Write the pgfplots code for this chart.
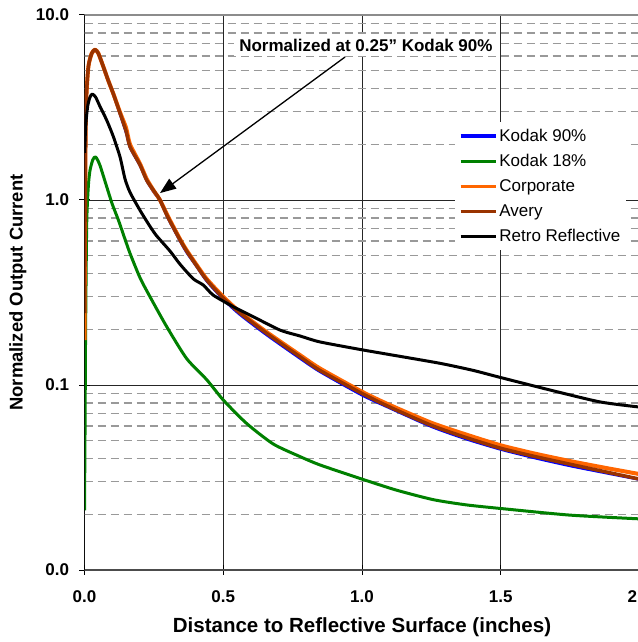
\documentclass[border=0pt]{standalone}
\usepackage{fontspec}
\setmainfont{Liberation Sans}
\usepackage{pgfplots}
\pgfplotsset{compat=1.18}
\usetikzlibrary{arrows.meta}

\definecolor{kblue}{RGB}{0,0,255}
\definecolor{kgreen}{RGB}{0,128,0}
\definecolor{corp}{RGB}{255,102,0}
\definecolor{avery}{RGB}{153,51,0}

\begin{document}
\begin{tikzpicture}
\begin{axis}[
    at={(0,0)}, anchor=south west,
    width=555pt, height=555pt, scale only axis,
    xmin=0, xmax=2,
    ymode=log, ymin=0.01, ymax=10,
    xtick={0,0.5,1,1.5,2},
    xticklabels={\textbf{0.0},\textbf{0.5},\textbf{1.0},\textbf{1.5},\textbf{2.0}},
    ytick={0.01,0.1,1,10},
    yticklabels={\textbf{0.0},\textbf{0.1},\textbf{1.0},\textbf{10.0}},
    minor ytick={0.02,0.03,0.04,0.05,0.06,0.07,0.08,0.09,
                 0.2,0.3,0.4,0.5,0.6,0.7,0.8,0.9,
                 2,3,4,5,6,7,8,9},
    xmajorgrids, ymajorgrids, yminorgrids,
    major grid style={black!85, line width=0.9pt},
    minor grid style={black!40, line width=1.3pt, dash pattern=on 8pt off 5pt},
    tick align=center, tick pos=left,
    major tick length=10pt, minor tick length=0pt,
    tick style={black, line width=1pt},
    axis line style={draw=none},
    tick label style={font=\fontsize{17}{17}\selectfont},
    xticklabel style={yshift=-12pt},
    yticklabel style={xshift=-7pt},
    xlabel={Distance to Reflective Surface (inches)},
    ylabel={Normalized Output Current},
    xlabel style={at={(axis description cs:0.5,-0.103)}, anchor=center,
        font=\bfseries\fontsize{20.5}{20.5}\selectfont},
    ylabel style={at={(axis description cs:-0.12,0.5)}, anchor=center,
        font=\bfseries\fontsize{18.4}{18.4}\selectfont},
    legend style={at={(rel axis cs:0.667,0.807)}, anchor=north west,
        draw=none, fill=white, font=\fontsize{17}{20}\selectfont,
        row sep=7.5pt, inner xsep=4pt, inner ysep=5pt},
    legend cell align=left,
    legend image code/.code={\draw[#1, line width=3.5pt] (0pt,0pt) -- (35pt,0pt);},
    every axis plot/.append style={smooth, tension=0.4, line join=round},
]
% Kodak 90%
\addplot[kblue, line width=2.5pt] coordinates {
(0.0,0.35) (0.003,1.6) (0.006,3.4) (0.014,5.2) (0.026,6.15) (0.038,6.45)
(0.05,6.15) (0.068,5.2) (0.085,4.4) (0.104,3.7) (0.128,2.9) (0.15,2.3)
(0.164,1.92) (0.2,1.53) (0.224,1.27) (0.25,1.1) (0.272,0.99) (0.3,0.80)
(0.344,0.60) (0.368,0.52) (0.4,0.445) (0.44,0.365) (0.5,0.29)
(0.56,0.24) (0.657,0.186) (0.777,0.139) (0.848,0.118) (1.0,0.088) (1.1,0.075)
(1.25,0.0595) (1.375,0.051) (1.5,0.0448) (1.625,0.0402) (1.75,0.0365)
(1.875,0.0335) (2.0,0.0308)};
% Kodak 18%
\addplot[kgreen, line width=3pt] coordinates {
(0.0,0.021) (0.002,0.06) (0.004,0.2) (0.008,0.75) (0.014,1.2) (0.02,1.45)
(0.03,1.65) (0.04,1.71) (0.055,1.55) (0.08,1.18) (0.1,0.95) (0.122,0.78)
(0.145,0.62) (0.164,0.515) (0.2,0.38) (0.236,0.30) (0.296,0.207) (0.368,0.139)
(0.44,0.107) (0.5,0.083) (0.584,0.062) (0.68,0.048) (0.777,0.041) (0.848,0.037)
(1.0,0.031) (1.125,0.027) (1.257,0.024) (1.375,0.0225) (1.5,0.0215)
(1.75,0.0198) (2.0,0.0189)};
% Corporate
\addplot[corp, line width=4pt] coordinates {
(0.0,0.175) (0.003,1.5) (0.006,3.4) (0.014,5.25) (0.026,6.2) (0.038,6.5)
(0.05,6.2) (0.068,5.25) (0.085,4.45) (0.104,3.75) (0.128,2.98) (0.15,2.45)
(0.164,2.0) (0.2,1.57) (0.224,1.3) (0.25,1.12) (0.272,1.0) (0.3,0.82)
(0.344,0.615) (0.368,0.535) (0.4,0.455) (0.44,0.375) (0.5,0.30)
(0.56,0.248) (0.657,0.193) (0.777,0.145) (0.848,0.123) (1.0,0.092) (1.1,0.078)
(1.25,0.0625) (1.375,0.054) (1.5,0.0472) (1.625,0.0425) (1.75,0.0388)
(1.875,0.0357) (2.0,0.0330)};
% Avery
\addplot[avery, line width=3.5pt] coordinates {
(0.0,0.245) (0.003,1.5) (0.006,3.4) (0.014,5.25) (0.026,6.2) (0.038,6.5)
(0.05,6.2) (0.068,5.25) (0.085,4.45) (0.104,3.75) (0.128,2.95) (0.15,2.35)
(0.164,1.94) (0.2,1.55) (0.224,1.28) (0.25,1.12) (0.272,1.0) (0.3,0.81)
(0.344,0.61) (0.368,0.53) (0.4,0.45) (0.44,0.37) (0.5,0.295)
(0.56,0.245) (0.657,0.19) (0.777,0.142) (0.848,0.12) (1.0,0.090) (1.1,0.076)
(1.25,0.0605) (1.375,0.052) (1.5,0.0455) (1.625,0.041) (1.75,0.0373)
(1.875,0.034) (2.0,0.031)};
% Retro Reflective
\addplot[black, line width=3pt] coordinates {
(0.0,1.8) (0.005,2.6) (0.012,3.25) (0.02,3.6) (0.028,3.74) (0.04,3.6)
(0.056,3.2) (0.08,2.7) (0.104,2.2) (0.128,1.71) (0.146,1.3) (0.164,1.1)
(0.2,0.88) (0.236,0.72) (0.26,0.64) (0.308,0.53) (0.344,0.45) (0.392,0.375)
(0.428,0.347) (0.464,0.306) (0.536,0.265) (0.608,0.234) (0.705,0.198)
(0.777,0.184) (0.848,0.171) (1.0,0.155) (1.1,0.146) (1.281,0.131) (1.4,0.12)
(1.497,0.110) (1.677,0.094) (1.858,0.081) (2.0,0.076)};
\legend{Kodak 90\%,Kodak 18\%,Corporate,Avery,Retro Reflective}

\draw[black!45, line width=2pt] (rel axis cs:0,1) -- (rel axis cs:1,1);
\draw[black!70, line width=2pt] (rel axis cs:0,0) -- (rel axis cs:1,0);
\draw[black, line width=1.2pt] (rel axis cs:0,0) -- (rel axis cs:0,1);

\node[fill=white, inner xsep=5pt, inner ysep=5pt,
      font=\bfseries\fontsize{17}{17}\selectfont]
      at (axis cs:1.014,6.88) {Normalized at 0.25" Kodak 90\%};
\draw[line width=1.3pt, -{Triangle[length=16pt,width=12pt]}]
      (axis cs:0.939,5.93) -- (axis cs:0.272,1.09);
\end{axis}
\pgfresetboundingbox
\path[use as bounding box] (-84.5pt,-72pt) rectangle (552.5pt,570pt);
\end{tikzpicture}
\end{document}
